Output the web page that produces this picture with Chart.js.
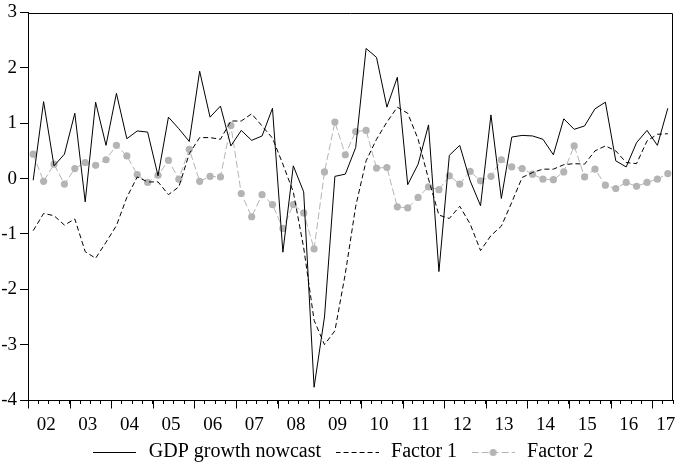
<!DOCTYPE html>
<html>
<head>
<meta charset="utf-8">
<script src="https://cdn.jsdelivr.net/npm/chart.js@4/dist/chart.umd.min.js"></script>
<style>
  html, body { margin: 0; padding: 0; background: #fff; }
  #wrap { width: 685px; height: 464px; position: relative; }
</style>
</head>
<body>
<div id="wrap"><canvas id="c"></canvas></div>
<script>
// Quarterly observations 2002Q1 .. 2017Q2
const yearLabels = ['02','03','04','05','06','07','08','09','10','11','12','13','14','15','16','17'];
const seriesNames = ['GDP growth nowcast', 'Factor 1', 'Factor 2'];
const yTicks = [-4, -3, -2, -1, 0, 1, 2, 3];

const gdpNowcast = [
  -0.03, 1.39, 0.23, 0.44, 1.18, -0.42, 1.38, 0.60,
  1.54, 0.72, 0.86, 0.84, 0.05, 1.11, 0.90, 0.67,
  1.94, 1.11, 1.31, 0.59, 0.87, 0.69, 0.77, 1.27,
  -1.33, 0.23, -0.24, -3.77, -2.50, 0.04, 0.08, 0.56,
  2.35, 2.19, 1.29, 1.83, -0.11, 0.26, 0.97, -1.68,
  0.42, 0.60, -0.04, -0.49, 1.15, -0.36, 0.75, 0.78,
  0.77, 0.71, 0.43, 1.08, 0.89, 0.95, 1.26, 1.38,
  0.32, 0.21, 0.65, 0.87, 0.60, 1.27
];
const factor1 = [
  -0.94, -0.63, -0.67, -0.84, -0.73, -1.32, -1.44, -1.15,
  -0.85, -0.34, 0.03, -0.06, -0.06, -0.29, -0.15, 0.45,
  0.74, 0.74, 0.71, 1.04, 1.04, 1.17, 0.95, 0.73,
  0.26, -0.24, -1.25, -2.56, -3.00, -2.75, -1.72, -0.50,
  0.32, 0.71, 1.02, 1.29, 1.18, 0.71, -0.01, -0.66,
  -0.72, -0.50, -0.82, -1.30, -1.03, -0.86, -0.43, 0.02,
  0.11, 0.17, 0.17, 0.25, 0.27, 0.26, 0.50, 0.59,
  0.50, 0.29, 0.27, 0.68, 0.80, 0.81
];
const factor2 = [
  0.44, -0.05, 0.26, -0.10, 0.18, 0.29, 0.24, 0.34,
  0.60, 0.41, 0.07, -0.07, 0.06, 0.33, -0.01, 0.53,
  -0.05, 0.04, 0.03, 0.96, -0.27, -0.69, -0.29, -0.47,
  -0.90, -0.47, -0.62, -1.27, 0.12, 1.02, 0.43, 0.85,
  0.87, 0.19, 0.20, -0.51, -0.53, -0.34, -0.15, -0.20,
  0.05, -0.10, 0.13, -0.04, 0.04, 0.34, 0.21, 0.18,
  0.08, -0.01, -0.02, 0.12, 0.59, 0.03, 0.17, -0.12,
  -0.18, -0.07, -0.14, -0.07, -0.01, 0.09
];

const FONT = "'Liberation Serif', 'Times New Roman', serif";
const GREY = '#b4b4b4';
const nObs = gdpNowcast.length;
const toPts = arr => arr.map((v, i) => ({ x: i + 0.5, y: v }));

// label positions (in quarter units) for the year labels
const yearLabelPos = yearLabels.map((_, k) => Math.min(4 * k + 1.75, nObs - 0.7));

function sample(kind) {
  const c = document.createElement('canvas');
  c.width = 43; c.height = 12;
  const g = c.getContext('2d');
  g.lineWidth = 1;
  if (kind === 0) { g.strokeStyle = '#000'; g.setLineDash([]); }
  if (kind === 1) { g.strokeStyle = '#000'; g.setLineDash([5, 3]); }
  if (kind === 2) { g.strokeStyle = GREY; g.setLineDash([7, 3]); }
  g.beginPath(); g.moveTo(0, 6.5); g.lineTo(43, 6.5); g.stroke();
  if (kind === 2) {
    g.fillStyle = GREY; g.beginPath(); g.arc(21.5, 6.5, 3.5, 0, Math.PI * 2); g.fill();
  }
  return c;
}
const samples = [sample(0), sample(1), sample(2)];

const framePlugin = {
  id: 'frame',
  afterDraw(chart) {
    const { ctx, chartArea: a, scales } = chart;
    ctx.save();
    ctx.strokeStyle = '#000';
    ctx.lineWidth = 1;
    ctx.beginPath();
    const L = Math.round(a.left) + 0.5, R = Math.round(a.right) - 0.5;
    const T = Math.round(a.top) + 0.5, B = Math.round(a.bottom) + 0.5;
    ctx.moveTo(L, T); ctx.lineTo(R, T); ctx.lineTo(R, B);
    for (let v = 0; v <= nObs; v += 4) {
      const px = Math.round(scales.x.getPixelForValue(v)) + 0.5;
      ctx.moveTo(px, B); ctx.lineTo(px, B + 8);
    }
    ctx.stroke();
    ctx.restore();
  }
};

new Chart(document.getElementById('c'), {
  type: 'line',
  data: {
    datasets: [
      { label: seriesNames[0], data: toPts(gdpNowcast), borderColor: '#000', borderWidth: 1,
        pointRadius: 0, tension: 0 },
      { label: seriesNames[1], data: toPts(factor1), borderColor: '#000', borderWidth: 1,
        borderDash: [5, 3], pointRadius: 0, tension: 0 },
      { label: seriesNames[2], data: toPts(factor2), borderColor: GREY, borderWidth: 1,
        borderDash: [7, 3], pointRadius: 3.6, pointBackgroundColor: GREY, pointBorderWidth: 0,
        tension: 0 }
    ]
  },
  options: {
    responsive: true,
    maintainAspectRatio: false,
    animation: false,
    events: [],
    layout: { padding: { left: 0, right: 1, top: 9, bottom: -8 } },
    plugins: {
      tooltip: { enabled: false },
      legend: {
        position: 'bottom',
        labels: {
          usePointStyle: true,
          pointStyleWidth: 48,
          padding: 12,
          color: '#000',
          font: { family: FONT, size: 20 },
          generateLabels: (chart) => chart.data.datasets.map((d, i) => ({
            text: d.label, pointStyle: samples[i], datasetIndex: i, hidden: false,
            fontColor: '#000', lineWidth: 0, strokeStyle: 'transparent', fillStyle: 'transparent'
          }))
        }
      }
    },
    scales: {
      x: {
        type: 'linear',
        min: 0, max: nObs,
        afterBuildTicks: (s) => {
          const t = Array.from({ length: nObs + 1 }, (_, i) => ({ value: i }));
          yearLabelPos.forEach(p => t.push({ value: p }));
          t.sort((a, b) => a.value - b.value);
          s.ticks = t;
        },
        afterFit: (s) => { s.height = 30; },
        ticks: {
          autoSkip: false, maxRotation: 0, minRotation: 0, padding: 12,
          color: '#000', font: { family: FONT, size: 19, lineHeight: 1 },
          callback: (v) => {
            const k = yearLabelPos.indexOf(v);
            return k >= 0 ? yearLabels[k] : '';
          }
        },
        grid: {
          drawOnChartArea: false, tickLength: 4, color: '#000', lineWidth: 1,
          tickColor: (c) => (c.tick && Number.isInteger(c.tick.value)) ? '#000' : 'rgba(0,0,0,0)'
        },
        border: { color: '#000', width: 1 }
      },
      y: {
        min: -4, max: 3,
        afterBuildTicks: (s) => { s.ticks = yTicks.map(v => ({ value: v })); },
        afterFit: (s) => { s.width = 28; },
        ticks: { padding: 3, color: '#000', font: { family: FONT, size: 19, lineHeight: 1 } },
        grid: { drawOnChartArea: false, tickLength: 8, color: '#000', lineWidth: 1 },
        border: { color: '#000', width: 1 }
      }
    }
  },
  plugins: [framePlugin]
});
</script>
</body>
</html>
